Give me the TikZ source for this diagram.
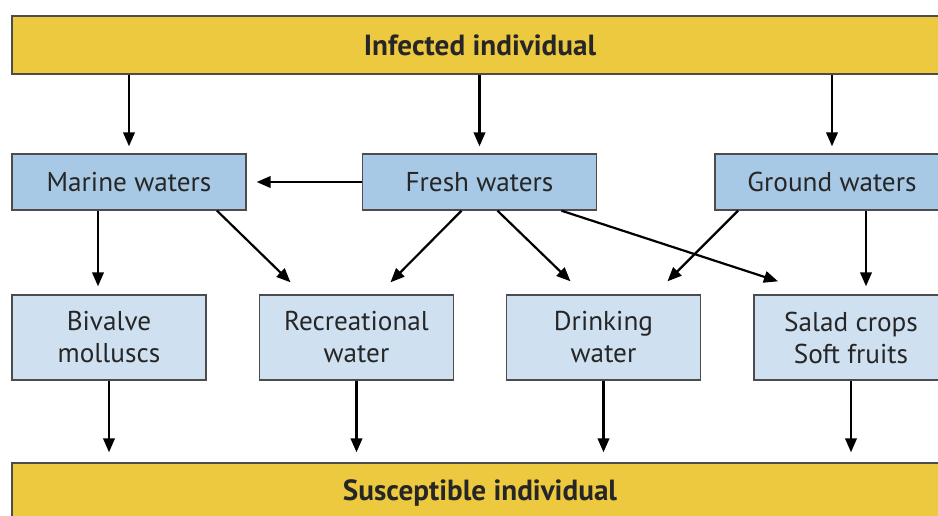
\documentclass[tikz,border=0pt]{standalone}
\usepackage{fontspec}
\setmainfont{PT Sans}
\usetikzlibrary{arrows.meta,calc}

\definecolor{hostYellow}{HTML}{EDC940}
\definecolor{sourceBlue}{HTML}{A7C9E5}
\definecolor{routeBlue}{HTML}{CFE1F1}

\tikzset{
    box/.style={draw=black!70, line width=0.8pt, text=black!85,
        font=\fontsize{15.5}{18.2}\selectfont, align=center, inner sep=0pt},
    host/.style={box, fill=hostYellow, minimum width=18.72cm, minimum height=1.16cm,
        font=\fontsize{16.6}{18.2}\selectfont\bfseries},
    source/.style={box, fill=sourceBlue, minimum width=4.68cm, minimum height=1.12cm},
    route/.style={box, fill=routeBlue, minimum width=3.88cm, minimum height=1.7cm},
    flow/.style={-{Triangle[length=8pt, width=6.6pt]}, line width=1.25pt}
}

\begin{document}
\begin{tikzpicture}[x=0.02cm, y=-0.02cm]
        \useasboundingbox (0, 0) rectangle (938, 515);
        \clip (0, 0) rectangle (938, 515);

        % people
        \node[host] (inf) at (480, 45) {Infected individual};
        \node[host, minimum height=1.2cm] (sus) at (480, 493) {Susceptible individual};

        % waters
        \node[source] (marine) at (129, 182) {Marine waters};
        \node[source] (fresh) at (479.5, 182) {Fresh waters};
        \node[source] (ground) at (832, 182) {Ground waters};

        % routes of exposure
        \node[route] (bivalve) at (109, 337.5) {Bivalve\\molluscs};
        \node[route] (recr) at (356.5, 337.5) {Recreational\\water};
        \node[route] (drink) at (603.5, 337.5) {Drinking\\water};
        \node[route] (salad) at (851, 337.5) {Salad crops\\Soft fruits};

        \draw[flow] (inf.south -| marine.north) -- ($(marine.north)+(0, -7)$);
        \draw[flow] (inf.south -| fresh.north) -- ($(fresh.north)+(0, -7)$);
        \draw[flow] (inf.south -| ground.north) -- ($(ground.north)+(0, -7)$);

        \draw[flow] (fresh.west) -- ($(marine.east)+(10, 0)$);

        \draw[flow] ($(marine.south)+(-31, 0)$) -- ($(bivalve.north)+(-11, -8)$);
        \draw[flow] ($(marine.south)+(88, 0)$) -- ($(recr.north)+(-66, -12)$);
        \draw[flow] ($(fresh.south)+(-18, 0)$) -- ($(recr.north)+(34, -12)$);
        \draw[flow] ($(fresh.south)+(18, 0)$) -- ($(drink.north)+(-33, -13)$);
        \draw[flow] ($(fresh.south)+(82, 0)$) -- ($(salad.north)+(-73, -13)$);
        \draw[flow] ($(ground.south)+(-94, 0)$) -- ($(drink.north)+(64, -13)$);
        \draw[flow] ($(ground.south)+(34, 0)$) -- ($(salad.north)+(15, -8)$);

        \draw[flow] (bivalve.south) -- ($(bivalve.south |- sus.north)+(0, -10)$);
        \draw[flow] (recr.south) -- ($(recr.south |- sus.north)+(0, -10)$);
        \draw[flow] (drink.south) -- ($(drink.south |- sus.north)+(0, -10)$);
        \draw[flow] (salad.south) -- ($(salad.south |- sus.north)+(0, -10)$);
    \end{tikzpicture}
\end{document}
